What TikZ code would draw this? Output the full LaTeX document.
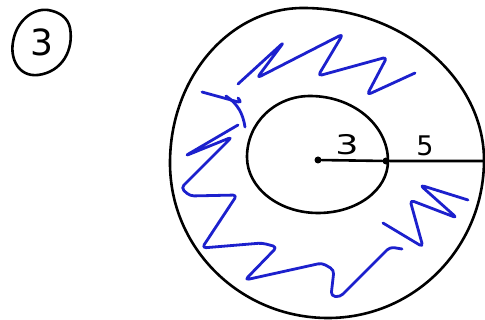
\documentclass[tikz,border=0pt]{standalone}
\usepackage{fontspec}
\setmainfont{DejaVu Sans}
\definecolor{pen}{RGB}{28,32,205}
\tikzset{
  ink/.style={line width=2.6pt, line cap=round, line join=round, black},
  blueink/.style={line width=2.8pt, line cap=round, line join=round, pen, rounded corners=4pt},
  dotpt/.style={circle, fill=black, inner sep=0pt, minimum size=7pt},
  lbl/.style={inner sep=0pt, font=\fontsize{27}{27}\selectfont}
}
\begin{document}
\begin{tikzpicture}[x=1pt,y=-1pt]
\useasboundingbox (0,0) rectangle (485,320);
% circled number
\draw[ink] (70,28) .. controls (74,50) and (62,72) .. (38,75)
  .. controls (18,77) and (10,58) .. (13,42)
  .. controls (16,22) and (32,8) .. (48,10)
  .. controls (60,12) and (68,18) .. cycle;
\node[inner sep=0pt, font=\fontsize{36}{36}\selectfont] (num) at (42,42) {3};
% outer curve
\draw[ink] (484,160) .. controls (484,80) and (405,8) .. (303,8)
  .. controls (230,8) and (170,77) .. (170,163)
  .. controls (170,249) and (241,318) .. (328,318)
  .. controls (415,318) and (484,247) .. cycle;
% inner curve
\draw[ink] (388,161) .. controls (388,125) and (353,96) .. (310,96)
  .. controls (275,96) and (247,123) .. (247,157)
  .. controls (247,188) and (279,213) .. (318,213)
  .. controls (357,213) and (388,190) .. cycle;
% radius line
\node[dotpt] (c) at (318,160) {};
\node[dotpt] (m) at (386,161) {};
\coordinate (e) at (485,161);
\draw[ink] (c) -- (m) -- (e);
\node[lbl, xscale=1.35] (l3) at (347,145) {3};
\node[lbl] (l5) at (425,146) {5};
% blue squiggles
\draw[blueink] (238,84) -- (284,42) -- (257,78) -- (343,34) -- (318,76) -- (387,57) -- (367,95) -- (415,73);
\draw[blueink] (202,92) -- (242,103) -- (238,98);
\draw[blueink] (226,96) .. controls (238,104) and (243,114) .. (245,127);
\draw[blueink] (238,125) -- (185,156) -- (232,137) -- (181,188) -- (190,196) -- (237,195) -- (202,248) -- (262,243) -- (277,247) -- (245,280) -- (322,263) -- (334,270) -- (331,296) -- (340,297) -- (390,247) -- (402,249);
\draw[blueink] (383,223) -- (423,247) -- (410,200) -- (457,218) -- (420,185) -- (468,200);
\end{tikzpicture}
\end{document}
